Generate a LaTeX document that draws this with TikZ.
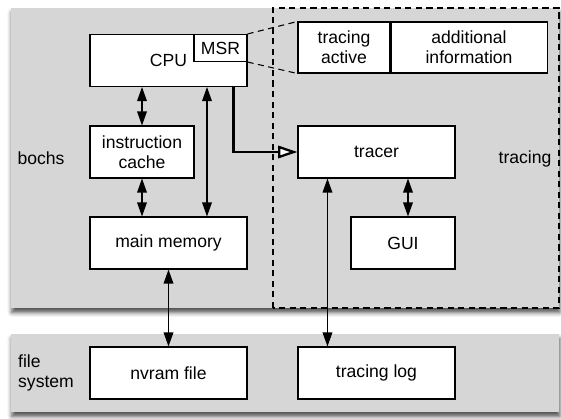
\documentclass[tikz,border=0pt]{standalone}
\usepackage{fontspec}
\setmainfont{Liberation Sans}
\usetikzlibrary{arrows.meta,shadows.blur}

\tikzset{
	box/.style={draw, fill=white, line width=0.6pt, minimum height=1.04cm, inner sep=2pt, align=center},
	area/.style={fill=black!16, blur shadow={shadow xshift=0.5pt, shadow yshift=-2.5pt, shadow blur radius=2.5pt, shadow opacity=70}},
	link/.style={{Triangle[length=8pt,width=5.5pt,fill=black]}-{Triangle[length=8pt,width=5.5pt,fill=black]}, line width=0.7pt, opacity=1},
}

\begin{document}
\begin{tikzpicture}[font=\fontsize{10}{11.5}\selectfont]
		\useasboundingbox (0,0) rectangle (11.22,8.36);
		
		% Areas
		\fill[area] (0.22,2.2) rectangle (11.18,8.2);							% bochs + tracing
		\fill[area] (0.22,0.12) rectangle (11.18,1.68);						% file system
		\draw[dashed, dash pattern=on 3.5pt off 2.5pt, line width=0.6pt] (5.46,2.2) rectangle (11.18,8.2);	% tracing
		
		% Area labels
		\node (bochs) at (0.82,5.2) {bochs};
		\node (tracing) at (10.5,5.18) {tracing};
		\node[anchor=west, align=left] (fs) at (0.24,0.9) {file\\system};
		
		% Boxes
		\node[box, minimum width=3.14cm] (cpu) at (3.37,7.15) {CPU};
		\node[box, minimum width=1.06cm, minimum height=0.54cm, inner sep=1pt, anchor=north east] (msr) at (cpu.north east) {MSR};
		\node[box, minimum width=2.08cm] (cache) at (2.84,5.32) {instruction\\cache};
		\node[box, minimum width=3.14cm] (mem) at (3.37,3.5) {main memory};
		\node[box, minimum width=3.14cm] (nvram) at (3.37,0.9) {nvram file};
		
		\node[box, minimum width=1.84cm, minimum height=1.02cm] (active) at (6.88,7.41) {tracing\\active};
		\node[box, minimum width=3.12cm, minimum height=1.02cm, anchor=west] (info) at (active.east) {additional\\information};
		\node[box, minimum width=3.14cm] (tracer) at (7.53,5.32) {tracer};
		\node[box, minimum width=2.08cm] (gui) at (8.06,3.5) {GUI};
		\node[box, minimum width=3.14cm] (log) at (7.53,0.9) {tracing log};
		
		% MSR detail
		\draw[dashed, dash pattern=on 3.5pt off 2.5pt, line width=0.6pt] (msr.north east) -- (active.north west);
		\draw[dashed, dash pattern=on 3.5pt off 2.5pt, line width=0.6pt] (msr.south east) -- (active.south west);
		
		% Arrows
		\coordinate (cpumem) at ([xshift=0.77cm]cpu.south);
		\coordinate (tlog) at ([xshift=0.6cm]tracer.south west);
		\coordinate (tgui) at ([xshift=0.1cm]gui.north);
		
		\draw[link] (cache.north) -- (cache.north |- cpu.south);
		\draw[link] (cache.south) -- (cache.south |- mem.north);
		\draw[link] (cpumem) -- (cpumem |- mem.north);
		\draw[link] (mem.south) -- (nvram.north);
		\draw[link] (tlog) -- (tlog |- log.north);
		\draw[link] (tgui |- tracer.south) -- (tgui);
		\draw[-{Triangle[open,fill=white,length=11pt,width=7pt]}, line width=1.3pt, opacity=1] ([xshift=-0.28cm]cpu.south east) |- (tracer.west);
	\end{tikzpicture}
\end{document}
